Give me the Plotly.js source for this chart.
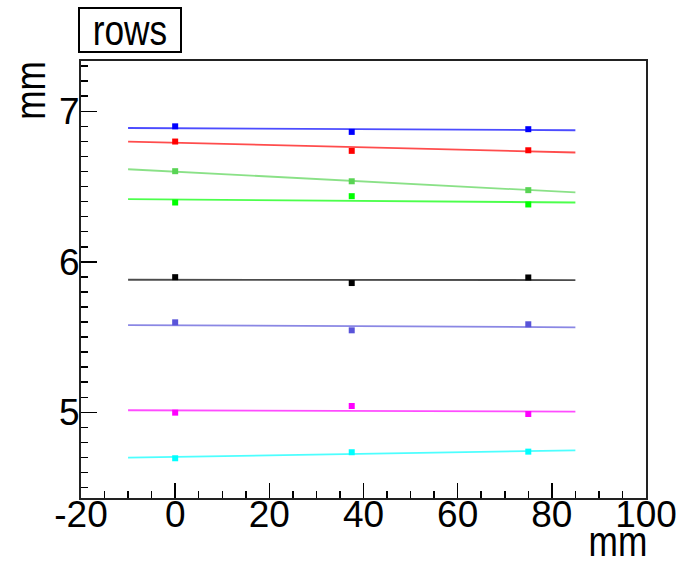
<!DOCTYPE html>
<html>
<head>
<meta charset="utf-8">
<script src="https://cdn.plot.ly/plotly-3.0.1.min.js"></script>
<style>html,body{margin:0;padding:0;background:#fff;}#chart{width:683px;height:561px;}</style>
</head>
<body>
<div id="chart"></div>
<script>
// ---- data ----
const xPoints = [0, 37.5, 75];
const xFit = [-10, 85];
const seriesNames = ["blue", "red", "green8", "green3", "black", "slate", "magenta", "cyan"];
const seriesColors = ["#0000ff", "#ff0000", "#59d454", "#00ff00", "#000000", "#5954d9", "#ff00ff", "#00ffff"];
const blueVals = [6.900, 6.863, 6.881];
const redVals = [6.799, 6.737, 6.741];
const green8Vals = [6.602, 6.535, 6.476];
const green3Vals = [6.394, 6.436, 6.381];
const blackVals = [5.898, 5.859, 5.896];
const slateVals = [5.598, 5.545, 5.585];
const magentaVals = [4.998, 5.042, 4.989];
const cyanVals = [4.695, 4.735, 4.739];
const blueFit = [6.889, 6.874];
const redFit = [6.799, 6.726];
const green8Fit = [6.615, 6.461];
const green3Fit = [6.416, 6.394];
const blackFit = [5.881, 5.879];
const slateFit = [5.580, 5.565];
const magentaFit = [5.014, 5.005];
const cyanFit = [4.699, 4.748];
const xTickVals = [-20, 0, 20, 40, 60, 80, 100];
const xTickText = ["-20", "0", "20", "40", "60", "80", "100"];
const yTickVals = [5, 6, 7];
const yTickText = ["5", "6", "7"];
const titleText = "rows";
const xTitle = "mm";
const yTitle = "mm";
const xRange = [-20, 100];
const yRange = [4.431, 7.334];

const allVals = [blueVals, redVals, green8Vals, green3Vals, blackVals, slateVals, magentaVals, cyanVals];
const allFits = [blueFit, redFit, green8Fit, green3Fit, blackFit, slateFit, magentaFit, cyanFit];

const FONT = "'Liberation Sans', Arial, Helvetica, sans-serif";

const traces = [];
allFits.forEach((f, i) => {
  traces.push({
    x: xFit, y: f, mode: "lines", name: seriesNames[i] + " fit",
    line: {color: seriesColors[i], width: 1.8}, opacity: 0.7,
    hoverinfo: "skip", showlegend: false
  });
});
allVals.forEach((v, i) => {
  traces.push({
    x: xPoints, y: v, mode: "markers", name: seriesNames[i],
    marker: {symbol: "square", size: 6, color: seriesColors[i]},
    showlegend: false
  });
});

const layout = {
  width: 683, height: 561,
  margin: {l: 81, r: 36.5, t: 60.7, b: 63},
  paper_bgcolor: "#ffffff", plot_bgcolor: "#ffffff",
  font: {family: FONT, color: "#000"},
  showlegend: false,
  xaxis: {
    range: xRange, tickmode: "array", tickvals: xTickVals, ticktext: xTickText,
    ticks: "inside", ticklen: 15, tickwidth: 1.5, tickcolor: "#000",
    minor: {ticks: "inside", ticklen: 7, dtick: 5, tick0: 0, tickwidth: 1.5, tickcolor: "#000"},
    showgrid: false, zeroline: false,
    showline: true, linecolor: "#222", linewidth: 2, mirror: true,
    ticklabelstandoff: -17,
    tickfont: {size: 37, family: FONT, color: "#000"}
  },
  yaxis: {
    range: yRange, tickmode: "array", tickvals: yTickVals, ticktext: yTickText,
    ticks: "inside", ticklen: 16, tickwidth: 1.5, tickcolor: "#000",
    minor: {ticks: "inside", ticklen: 7, dtick: 0.1, tick0: 0, tickwidth: 1.5, tickcolor: "#000"},
    showgrid: false, zeroline: false,
    showline: true, linecolor: "#222", linewidth: 2, mirror: true,
    ticklabelstandoff: -8,
    tickfont: {size: 37, family: FONT, color: "#000"}
  },
  annotations: [
    {text: titleText, xref: "paper", yref: "paper", x: 0.0867, y: 1.070,
     xanchor: "center", yanchor: "middle", showarrow: false,
     font: {size: 42, family: FONT, color: "#000"},
     bordercolor: "#000", borderwidth: 2, borderpad: 0, width: 100, height: 42, bgcolor: "#fff"},
    {text: yTitle, xref: "paper", yref: "paper", x: -0.090, y: 0.933,
     xanchor: "center", yanchor: "middle", showarrow: false, textangle: -90,
     font: {size: 42, family: FONT, color: "#000"}},
    {text: xTitle, xref: "paper", yref: "paper", x: 0.9496, y: -0.100,
     xanchor: "center", yanchor: "middle", showarrow: false,
     font: {size: 42, family: FONT, color: "#000"}}
  ]
};

Plotly.newPlot("chart", traces, layout, {displayModeBar: false, staticPlot: true}).then(gd => {
  // condense annotation glyphs a little, as in the reference's narrow Helvetica
  gd.querySelectorAll(".annotation-text").forEach(t => {
    const len = t.getComputedTextLength();
    t.setAttribute("textLength", (len * 0.84).toFixed(1));
    t.setAttribute("lengthAdjust", "spacingAndGlyphs");
  });
});
</script>
</body>
</html>
